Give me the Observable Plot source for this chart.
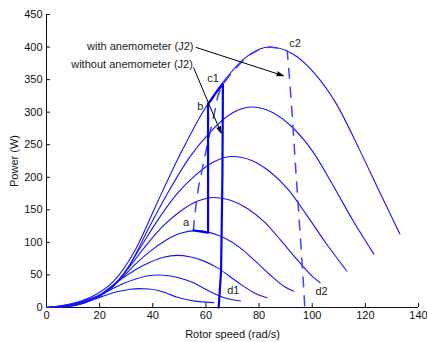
<!DOCTYPE html>
<html><head><meta charset="utf-8">
<script src="https://cdn.jsdelivr.net/npm/d3@7"></script>
<script src="https://cdn.jsdelivr.net/npm/@observablehq/plot@0.6"></script>
<style>
html,body{margin:0;padding:0;background:#fff;}
#chart svg{overflow:visible;}
</style>
</head><body><div id="chart"></div>
<script>
// Power curves (rotor speed rad/s, power W), one per wind speed
const curve1X = [0, 3.5, 7, 10.5, 14, 17.5, 21, 24.5, 28, 31.5, 35, 38.5, 42, 45.5, 49, 52.5, 56, 63];
const curve1P = [0, 0.3, 1.2, 2.9, 6.5, 11.9, 17.1, 21.8, 25.4, 28, 29, 28.3, 26.1, 21.5, 16, 12.2, 9.8, 7.5];
const curve2X = [0, 4.2, 8.4, 12.6, 16.8, 21, 25.2, 29.4, 33.6, 37.8, 42, 46.2, 50.4, 54.6, 58.8, 63, 67.2, 73];
const curve2P = [0, 0.6, 2, 5, 11.3, 20.5, 29.5, 37.5, 43.8, 48.3, 50, 48.8, 45, 39, 30.5, 21.5, 14.5, 10];
const curve3X = [0, 4.9, 9.8, 14.7, 19.6, 24.5, 29.4, 34.3, 39.2, 44.1, 49, 53.9, 58.8, 63.7, 68.6, 73.5, 78.4, 83];
const curve3P = [0, 1, 3.2, 8, 18, 32.8, 47.2, 60, 70, 77.2, 80, 78, 72, 62.4, 48.8, 34.4, 22, 15];
const curve4X = [0, 5.6, 11.2, 16.8, 22.4, 28, 33.6, 39.2, 44.8, 50.4, 56, 61.6, 67.2, 72.8, 78.4, 84, 89.6, 93];
const curve4P = [0, 1.4, 4.7, 11.8, 24, 44, 67, 87, 103, 113.9, 118, 115, 106.2, 92, 72, 50.7, 32, 25];
const curve5X = [0, 6.3, 12.6, 18.9, 25.2, 31.5, 37.8, 44.1, 50.4, 56.7, 63, 69.3, 75.6, 81.9, 88.2, 94.5, 100.8, 103];
const curve5P = [0, 2, 6.8, 16, 33, 64, 97, 126, 147.9, 163.1, 169, 164.8, 152.1, 131.8, 103.1, 72.7, 45, 38];
const curve6X = [0, 7, 14, 21, 28, 35, 42, 49, 56, 63, 70, 77, 84, 91, 98, 105, 113];
const curve6P = [0, 2.8, 9, 20, 45, 90, 135, 174, 203, 223.9, 232, 226.2, 208.8, 181, 141.5, 99.8, 56];
const curve7X = [0, 7.7, 15.4, 23.1, 30.8, 38.5, 46.2, 53.9, 61.6, 69.3, 77, 84.7, 92.4, 100.1, 107.8, 115.5, 123.2];
const curve7P = [0, 3.7, 12, 27, 62, 122, 180, 231, 269.5, 297.2, 308, 300.3, 277.2, 240.2, 187.9, 132.4, 82];
const curve8X = [0, 8.4, 16.8, 25.2, 33.6, 42, 50.4, 58.8, 67.2, 75.6, 84, 92.4, 100.8, 109.2, 117.6, 126, 133];
const curve8P = [0, 4.8, 16, 40, 90, 164, 236, 300, 350, 386, 400, 390, 360, 312, 244, 172, 113];

// Trajectory without anemometer (solid, thick)
const solidX = [55.3, 60.8, 60.8, 62, 64, 66.4, 66.2, 65.7, 64.8];
const solidP = [118.5, 115, 313, 319, 331, 343, 200, 56, 0];
// Trajectory with anemometer (dashed)
const dashX = [55.3, 55.5, 56.2, 57.2, 58.6, 60, 61.5, 63, 64.5, 66.4, 70, 75.6, 80, 84, 88, 90.6, 91.5, 92.4, 93.2, 94, 95, 96, 96.8, 97.2];
const dashP = [118, 130, 155, 185, 212, 240, 268, 295, 325, 343, 362, 386, 396, 400, 398, 394, 350, 300, 250, 200, 140, 80, 30, 0];

// Point labels
const labelText = ["a", "b", "c1", "c2", "d1", "d2"];
const labelX = [52.5, 57.9, 62.7, 93.5, 70.3, 103.5];
const labelY = [130.5, 308, 351, 406, 25.6, 24.6];

// Annotations with arrows
const annotText = ["with anemometer (J2)", "without anemometer (J2)"];
const annotX = [55.3, 55.1];
const annotY = [400.5, 372.8];
const arrowX1 = [56.3, 55.4];
const arrowY1 = [399.4, 368];
const arrowX2 = [89.1, 65.7];
const arrowY2 = [356, 268];

const xTicks = [0, 20, 40, 60, 80, 100, 120, 140];
const yTicks = [0, 50, 100, 150, 200, 250, 300, 350, 400, 450];

const curvesX = [curve1X, curve2X, curve3X, curve4X, curve5X, curve6X, curve7X, curve8X];
const curvesP = [curve1P, curve2P, curve3P, curve4P, curve5P, curve6P, curve7P, curve8P];
const curveRows = curvesX.flatMap((xs, k) => xs.map((x, i) => ({x, p: curvesP[k][i], k})));
const solidRows = solidX.map((x, i) => ({x, p: solidP[i]}));
const dashRows = dashX.map((x, i) => ({x, p: dashP[i]}));
const labelRows = labelText.map((t, i) => ({t, x: labelX[i], y: labelY[i]}));
const annotRows = annotText.map((t, i) => ({t, x: annotX[i], y: annotY[i], x1: arrowX1[i], y1: arrowY1[i], x2: arrowX2[i], y2: arrowY2[i]}));

const chart = Plot.plot({
  width: 427,
  height: 342,
  marginLeft: 46,
  marginRight: 9,
  marginTop: 14,
  marginBottom: 35,
  style: {fontFamily: "'Liberation Sans', Arial, sans-serif", fontSize: "11px", color: "#111", background: "#fff"},
  x: {domain: [0, 140]},
  y: {domain: [0, 450]},
  marks: [
    Plot.axisX({ticks: xTicks, tickSize: -4, tickPadding: 8, label: "Rotor speed (rad/s)", labelArrow: "none", labelAnchor: "center", labelOffset: 30, fontSize: 11}),
    Plot.axisY({ticks: yTicks, tickSize: -4, tickPadding: 8, label: "Power (W)", labelArrow: "none", labelAnchor: "center", labelOffset: 36, fontSize: 11}),
    Plot.ruleX([0], {stroke: "#111"}),
    Plot.ruleY([0], {stroke: "#111"}),
    Plot.line(curveRows, {x: "x", y: "p", z: "k", stroke: "#1414ff", strokeWidth: 1.1, curve: "monotone-x"}),
    Plot.line(dashRows, {x: "x", y: "p", stroke: "#4040ff", strokeWidth: 1.5, strokeDasharray: "10,9", curve: "linear"}),
    Plot.line(solidRows, {x: "x", y: "p", stroke: "#0000ff", strokeWidth: 2.2, curve: "linear"}),
    Plot.arrow(annotRows, {x1: "x1", y1: "y1", x2: "x2", y2: "y2", stroke: "#000", fill: "#000", strokeWidth: 1, headLength: 10, headAngle: 35}),
    Plot.text(annotRows, {x: "x", y: "y", text: "t", textAnchor: "end", fill: "#222", fontSize: 11}),
    Plot.text(labelRows, {x: "x", y: "y", text: "t", fill: "#222", fontSize: 11})
  ]
});
document.getElementById("chart").appendChild(chart);
</script>
</body></html>
